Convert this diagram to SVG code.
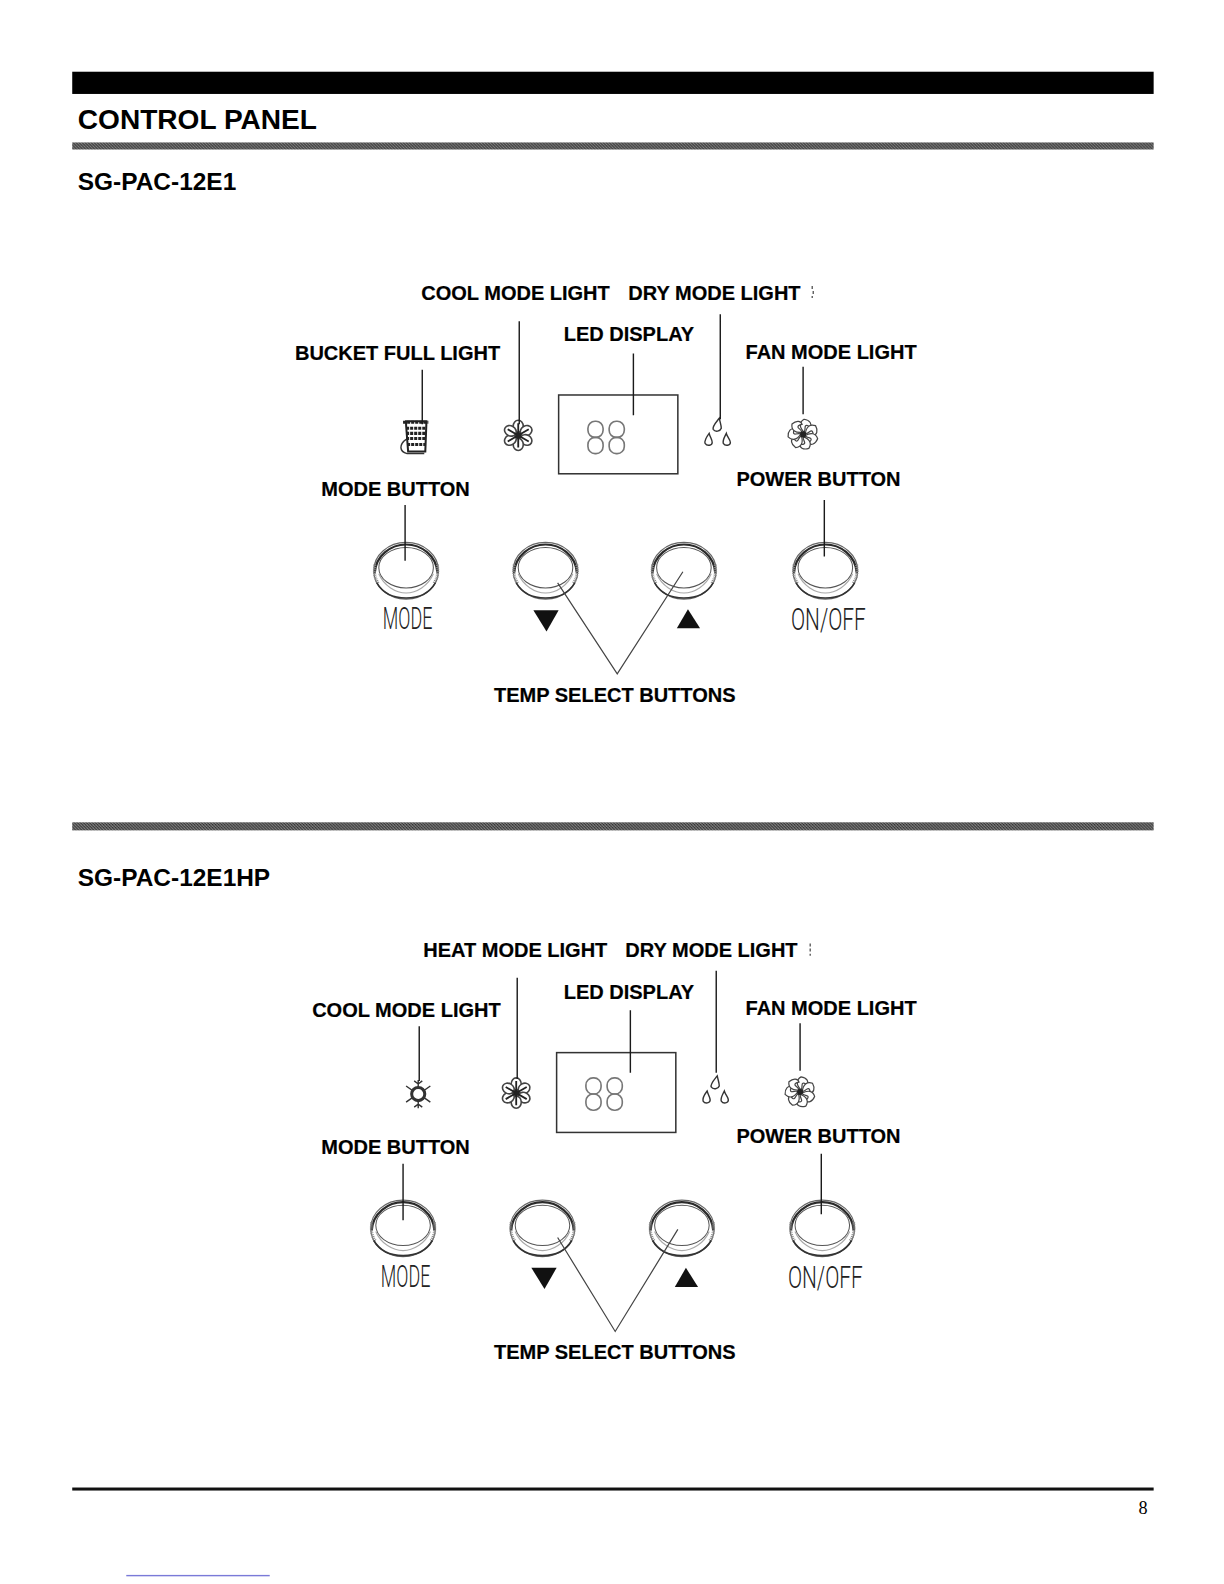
<svg xmlns="http://www.w3.org/2000/svg" width="1224" height="1584" viewBox="0 0 1224 1584">
<style>
text{font-family:"Liberation Sans",Arial,sans-serif;fill:#000}
.h1{font-size:27.800px;font-weight:700}
.h2{font-size:24.200px;font-weight:700}
.lb{font-size:19.800px;font-weight:700;stroke:#000;stroke-width:.2}
.seg{font-family:Roboto,"Liberation Sans",sans-serif;font-size:31px;fill:#222;font-weight:300}
.ln{stroke:#1a1a1a;stroke-width:1.4;fill:none}
.ln2{stroke:#444;stroke-width:1.2;fill:none}
.ic{fill:none;stroke:#333;stroke-width:1.4}
.dig{fill:none;stroke:#777;stroke-width:1.6}
</style>
<defs>
<pattern id="dither" width="3" height="3" patternUnits="userSpaceOnUse">
<rect width="3" height="3" fill="#808080"/>
<rect width="1" height="1" fill="#111"/><rect x="1" y="1" width="1" height="1" fill="#111"/><rect x="2" y="2" width="1" height="1" fill="#111"/>
</pattern>
<g id="btn">
<ellipse cx="0" cy="0" rx="32" ry="28" fill="#fff" stroke="#666" stroke-width="1.200"/>
<path d="M-31,2 C-30,-15 -15,-26 0,-26 C15,-26 30,-15 31,2" fill="none" stroke="#2a2a2a" stroke-width="2.200"/>
<path d="M-31,-6 C-32,2 -31,8 -27,13 M31,-6 C32,2 31,8 27,13" fill="none" stroke="#888" stroke-width="3" stroke-dasharray="1 1"/>
<ellipse cx="0" cy="-3" rx="27" ry="20" fill="#fff" stroke="#555" stroke-width="1"/>
<path d="M-27,3 C-22,15 -10,22 0,22 C10,22 22,15 27,3" fill="none" stroke="#aaa" stroke-width="1.200"/>
<path d="M-29,12 C-22,24 -10,27 0,27 C10,27 22,24 29,12" fill="none" stroke="#333" stroke-width="1.600"/>
</g>
<ellipse id="petal" cx="0" cy="-9" rx="5" ry="6" fill="#fff" stroke="#444" stroke-width="1.600"/>
<g id="flake">
<use href="#petal"/><use href="#petal" transform="rotate(60)"/><use href="#petal" transform="rotate(120)"/><use href="#petal" transform="rotate(180)"/><use href="#petal" transform="rotate(240)"/><use href="#petal" transform="rotate(300)"/>
<path d="M0,-12V12M-10.400,-6L10.400,6M-10.400,6L10.400,-6" stroke="#222" stroke-width="1.800" fill="none"/>
<circle r="3" fill="#222"/>
</g>
<path id="blade" d="M1,-2C-4,-7 -4,-12 1,-15C7,-14 9,-10 7,-7C5,-9 2,-10 2,-7C2,-5 2,-4 1,-2Z" fill="#fff" stroke="#444" stroke-width="1.200"/>
<g id="fan">
<use href="#blade"/><use href="#blade" transform="rotate(51)"/><use href="#blade" transform="rotate(103)"/><use href="#blade" transform="rotate(154)"/><use href="#blade" transform="rotate(206)"/><use href="#blade" transform="rotate(257)"/><use href="#blade" transform="rotate(309)"/>
<circle r="3" fill="#222"/>
</g>
<g id="drops">
<path class="ic" d="M2,-16C-2,-11 -5,-8 -4,-5C-2,-2 3,-3 4,-6C4,-9 3,-11 2,-16Z"/>
<path class="ic" d="M-8,-1C-11,3 -13,6 -12,9C-10,12 -5,11 -5,8C-5,5 -7,3 -8,-1Z"/>
<path class="ic" d="M9,-1C7,3 5,6 6,9C8,12 13,11 13,8C13,5 10,3 9,-1Z"/>
</g>
<g id="eights" class="dig">
<rect x="0" y="0" width="15" height="16" rx="7"/><rect x="0" y="16" width="15" height="16" rx="7"/>
<rect x="21" y="0" width="15" height="16" rx="7"/><rect x="21" y="16" width="15" height="16" rx="7"/>
</g>
</defs>
<rect width="1224" height="1584" fill="#fff"/>
<g transform="scale(1.0102)">
<g id="header">
<rect x="71.500" y="71" width="1070.500" height="22" fill="#000"/>
<text class="h1" x="77" y="128">CONTROL PANEL</text>
<rect x="71.500" y="141" width="1070.500" height="7" fill="url(#dither)"/>
<text class="h2" x="77" y="188">SG-PAC-12E1</text>
<rect x="71.500" y="814" width="1070.500" height="8" fill="url(#dither)"/>
<text class="h2" x="77" y="877">SG-PAC-12E1HP</text>
</g>
<g id="footer">
<rect x="71.500" y="1472.500" width="1070.500" height="3" fill="#111"/>
<text x="1127" y="1499" style="font-family:'Liberation Serif',serif;font-size:18px">8</text>
<rect x="125" y="1559" width="142" height="1.400" fill="#7a7ad8"/>
</g>

<g id="panel1-labels">
<text class="lb" x="417" y="297">COOL MODE LIGHT</text>
<text class="lb" x="622" y="297">DRY MODE LIGHT</text>
<path class="ln2" d="M804,283v3M805,288v3M804,293v2"/>
<text class="lb" x="558" y="338">LED DISPLAY</text>
<text class="lb" x="292" y="356">BUCKET FULL LIGHT</text>
<text class="lb" x="738" y="355">FAN MODE LIGHT</text>
<text class="lb" x="318" y="491">MODE BUTTON</text>
<text class="lb" x="729" y="481">POWER BUTTON</text>
<text class="lb" x="489" y="695">TEMP SELECT BUTTONS</text>
</g>
<g id="p1-bucket" transform="translate(410,432)">
<path d="M-8,-15H12V-11L11,15H-6L-8,-11Z" fill="#fff" stroke="#222" stroke-width="2"/>
<path d="M-11,-14H14M-8,-8H12M-8,-3H11M-8,2H11M-7,8H11" stroke="#222" stroke-width="3" stroke-dasharray="3 1" fill="none"/>
<path d="M-8,3C-15,8 -15,15 -7,17H10" class="ic" stroke-width="2"/>
</g>
<use id="p1-cool-icon" href="#flake" x="513" y="431"/>
<g id="p1-led">
<rect x="553" y="391" width="118" height="78" fill="none" stroke="#333" stroke-width="1.500"/>
<use href="#eights" x="582" y="417"/>
</g>
<use id="p1-dry-icon" href="#drops" x="710" y="430"/>
<use id="p1-fan-icon" href="#fan" x="795" y="430"/>
<g id="p1-mode"><use href="#btn" x="402" y="565"/><text class="seg" x="379" y="623" textLength="49" lengthAdjust="spacingAndGlyphs">MODE</text></g>
<g id="p1-down"><use href="#btn" x="540" y="565"/><path d="M528,604H553L541,625Z" fill="#111"/></g>
<g id="p1-up"><use href="#btn" x="677" y="565"/><path d="M670,622H693L681,603Z" fill="#111"/></g>
<g id="p1-power"><use href="#btn" x="817" y="565"/><text class="seg" x="783" y="624" textLength="74" lengthAdjust="spacingAndGlyphs">ON/OFF</text></g>

<g id="panel2-labels">
<text class="lb" x="419" y="947.500">HEAT MODE LIGHT</text>
<text class="lb" x="619" y="947.500">DRY MODE LIGHT</text>
<path class="ln2" d="M802,934v3M802,939v3M802,944v2"/>
<text class="lb" x="558" y="989">LED DISPLAY</text>
<text class="lb" x="309" y="1007">COOL MODE LIGHT</text>
<text class="lb" x="738" y="1005">FAN MODE LIGHT</text>
<text class="lb" x="318" y="1142">MODE BUTTON</text>
<text class="lb" x="729" y="1131">POWER BUTTON</text>
<text class="lb" x="489" y="1345">TEMP SELECT BUTTONS</text>
</g>
<g id="p2-sun" transform="translate(414,1083)">
<path class="ic" stroke-width="2.600" d="M0,-14V-6M0,6V14M-12,-8L-5,-3M12,-8L5,-3M-12,8L-5,3M12,8L5,3M-4,-13L0,-10L4,-13M-4,13L0,10L4,13"/>
<circle r="6.500" fill="#fff" stroke="#333" stroke-width="3"/>
</g>
<use id="p2-heat-icon" href="#flake" x="511" y="1082"/>
<g id="p2-led">
<rect x="551" y="1042" width="118" height="79" fill="none" stroke="#333" stroke-width="1.500"/>
<use href="#eights" x="580" y="1067"/>
</g>
<use id="p2-dry-icon" href="#drops" x="708" y="1081"/>
<use id="p2-fan-icon" href="#fan" x="792" y="1081"/>
<g id="p2-mode"><use href="#btn" x="399" y="1216"/><text class="seg" x="377" y="1274" textLength="49" lengthAdjust="spacingAndGlyphs">MODE</text></g>
<g id="p2-down"><use href="#btn" x="537" y="1216"/><path d="M526,1255H551L539,1276Z" fill="#111"/></g>
<g id="p2-up"><use href="#btn" x="675" y="1216"/><path d="M668,1274H691L679,1255Z" fill="#111"/></g>
<g id="p2-power"><use href="#btn" x="814" y="1216"/><text class="seg" x="780" y="1275" textLength="74" lengthAdjust="spacingAndGlyphs">ON/OFF</text></g>

<g id="connectors">
<path class="ln" d="M514,318V420M418,366V420M627,350V411M713,311V415M795,363V410M401,500V555M816,495V551"/>
<path class="ln2" d="M552,577L611,667L676,566"/>
<path class="ln" d="M512,968V1068M415,1016V1070M624,1000V1062M709,961V1062M792,1013V1060M399,1152V1208M813,1142V1202"/>
<path class="ln2" d="M552,1225L609,1318L671,1217"/>
</g>
</g>
</svg>
